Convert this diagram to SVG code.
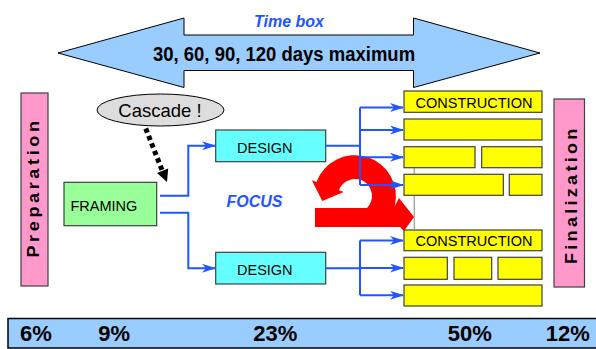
<svg xmlns="http://www.w3.org/2000/svg" width="596" height="349" viewBox="0 0 596 349">
  <style>
    .box { stroke: #404040; stroke-width: 1.2; }
    .lbl { font-family: "Liberation Sans", Arial, sans-serif; fill: #000; }
    .bold { font-family: "Liberation Sans", Arial, sans-serif; font-weight: bold; fill: #000; }
    .accent { font-family: "Liberation Sans", Arial, sans-serif; font-weight: bold; font-style: italic; fill: #2255ff; }
    .yellow { fill: #ffff00; stroke: #404040; stroke-width: 1.2; }
    .flow { fill: none; stroke: #2255ff; stroke-width: 2; }
    .flow-arrow { fill: none; stroke: #2255ff; stroke-width: 2; marker-end: url(#blueHead); }
    .phase { fill: #ff99cc; stroke: #404040; stroke-width: 1.2; }
    .phase-text { font-family: "Liberation Sans", Arial, sans-serif; font-weight: bold; font-size: 16px; fill: #000; }
    .pct { font-family: "Liberation Sans", Arial, sans-serif; font-weight: bold; font-size: 22px; fill: #000; }
  </style>
  <defs>
    <marker id="blueHead" markerUnits="userSpaceOnUse" markerWidth="14" markerHeight="10" refX="13" refY="4.5" orient="auto">
      <path d="M0,0 L14,4.5 L0,9 L4,4.5 Z" fill="#2255ff"/>
    </marker>
  </defs>

  <rect width="596" height="349" fill="#ffffff"/>

  <!-- time box double arrow -->
  <g id="timebox">
    <polygon points="58,53 184,18 184,35 413.5,35 413.5,18 540,53 413.5,87.5 413.5,70.5 184,70.5 184,87.5" fill="#99ccff" stroke="#000" stroke-width="1"/>
    <text class="accent" font-size="16" x="289" y="26.5" text-anchor="middle">Time box</text>
    <text class="bold" font-size="18.5" text-anchor="middle" transform="translate(284 60.8) scale(1 1.1)">30, 60, 90, 120 days maximum</text>
  </g>

  <!-- phase bars -->
  <g id="preparation">
    <rect class="phase" x="21" y="93" width="27" height="193"/>
    <text class="phase-text" letter-spacing="3.2" text-anchor="middle" transform="translate(39 187.5) rotate(-90) scale(1.13 1)">Preparation</text>
  </g>
  <g id="finalization">
    <rect class="phase" x="554" y="99" width="30.5" height="188"/>
    <text class="phase-text" letter-spacing="2.9" text-anchor="middle" transform="translate(577 194.7) rotate(-90) scale(1.13 1)">Finalization</text>
  </g>

  <!-- cascade note -->
  <g id="cascade">
    <ellipse cx="160.5" cy="110" rx="63.5" ry="16" fill="#dddddd" stroke="#000" stroke-width="1"/>
    <text class="lbl" font-size="18.5" x="160" y="117.3" text-anchor="middle">Cascade !</text>
    <line x1="145.7" y1="128.5" x2="162" y2="170" stroke="#000" stroke-width="5" stroke-dasharray="4.5 3.5"/>
    <polygon points="167,182 168.2,168.6 157,173" fill="#000"/>
  </g>

  <!-- framing -->
  <g id="framing">
    <rect class="box" x="64" y="182.3" width="92.7" height="43.4" fill="#99ff99"/>
    <text class="lbl" font-size="14.5" x="70.5" y="210.7">FRAMING</text>
  </g>

  <!-- design -->
  <g id="design-1">
    <rect class="box" x="215.7" y="130" width="110" height="31.7" fill="#66ffff"/>
    <text class="lbl" font-size="14.5" x="237" y="152.7">DESIGN</text>
  </g>
  <g id="design-2">
    <rect class="box" x="215.7" y="252.3" width="110" height="31.7" fill="#66ffff"/>
    <text class="lbl" font-size="14.5" x="237" y="275">DESIGN</text>
  </g>

  <g id="focus">
    <text class="accent" font-size="16" x="226.5" y="207.3">FOCUS</text>
  </g>

  <!-- iteration loop -->
  <g id="loop">
    <line x1="414.3" y1="160" x2="414.3" y2="229" stroke="#aaaaaa" stroke-width="1.5"/>
    <path d="M315,208 H367 A17,17 0 1 0 339,190.2 L343.7,191.9 L322.3,201.1 L311.8,180.3 L316.5,182 A41,41 0 0 1 394.8,205.9 L399,198 L414,217 L404,231 L400,227 H315 Z" fill="#ff0000"/>
  </g>

  <!-- construction blocks, first design -->
  <g id="construction-1">
    <rect class="yellow" x="404" y="91" width="138" height="21.3"/>
    <text class="lbl" font-size="14.5" x="474" y="108.3" text-anchor="middle">CONSTRUCTION</text>
    <rect class="yellow" x="404" y="119" width="138" height="21"/>
    <rect class="yellow" x="404" y="146.7" width="71" height="21"/>
    <rect class="yellow" x="481.7" y="146.7" width="60.3" height="21"/>
    <rect class="yellow" x="404" y="174.3" width="99.3" height="21"/>
    <rect class="yellow" x="509.3" y="174.3" width="32.7" height="21"/>
  </g>

  <!-- construction blocks, second design -->
  <g id="construction-2">
    <rect class="yellow" x="404" y="230" width="138" height="20.7"/>
    <text class="lbl" font-size="14.5" x="474" y="246" text-anchor="middle">CONSTRUCTION</text>
    <rect class="yellow" x="404" y="257.3" width="43.3" height="22"/>
    <rect class="yellow" x="454" y="257.3" width="37.7" height="22"/>
    <rect class="yellow" x="498" y="257.3" width="44" height="22"/>
    <rect class="yellow" x="404" y="285" width="138" height="21"/>
  </g>

  <!-- connectors -->
  <g id="connectors">
    <path class="flow-arrow" d="M160,195.7 H188.3 V145.7 H215"/>
    <path class="flow-arrow" d="M160,212.7 H188.3 V268.3 H215"/>
    <path class="flow" d="M325.7,145.7 H360 M360,107.5 V185"/>
    <path class="flow-arrow" d="M360,107.5 H403"/>
    <path class="flow-arrow" d="M360,130 H403"/>
    <path class="flow-arrow" d="M360,157.3 H403"/>
    <path class="flow-arrow" d="M360,185 H403"/>
    <path class="flow" d="M325.7,268.3 H360 M360,240.5 V295.3"/>
    <path class="flow-arrow" d="M360,240.5 H403"/>
    <path class="flow-arrow" d="M360,268 H403"/>
    <path class="flow-arrow" d="M360,295.3 H403"/>
  </g>

  <!-- effort split -->
  <g id="effort">
    <rect x="8" y="318.5" width="600" height="29.5" fill="#99ccff" stroke="#000" stroke-width="1.5"/>
    <text class="pct" x="20" y="340.7">6%</text>
    <text class="pct" x="98.3" y="340.7">9%</text>
    <text class="pct" x="253.3" y="340.7">23%</text>
    <text class="pct" x="447.7" y="340.7">50%</text>
    <text class="pct" x="545.7" y="340.7">12%</text>
  </g>
</svg>
